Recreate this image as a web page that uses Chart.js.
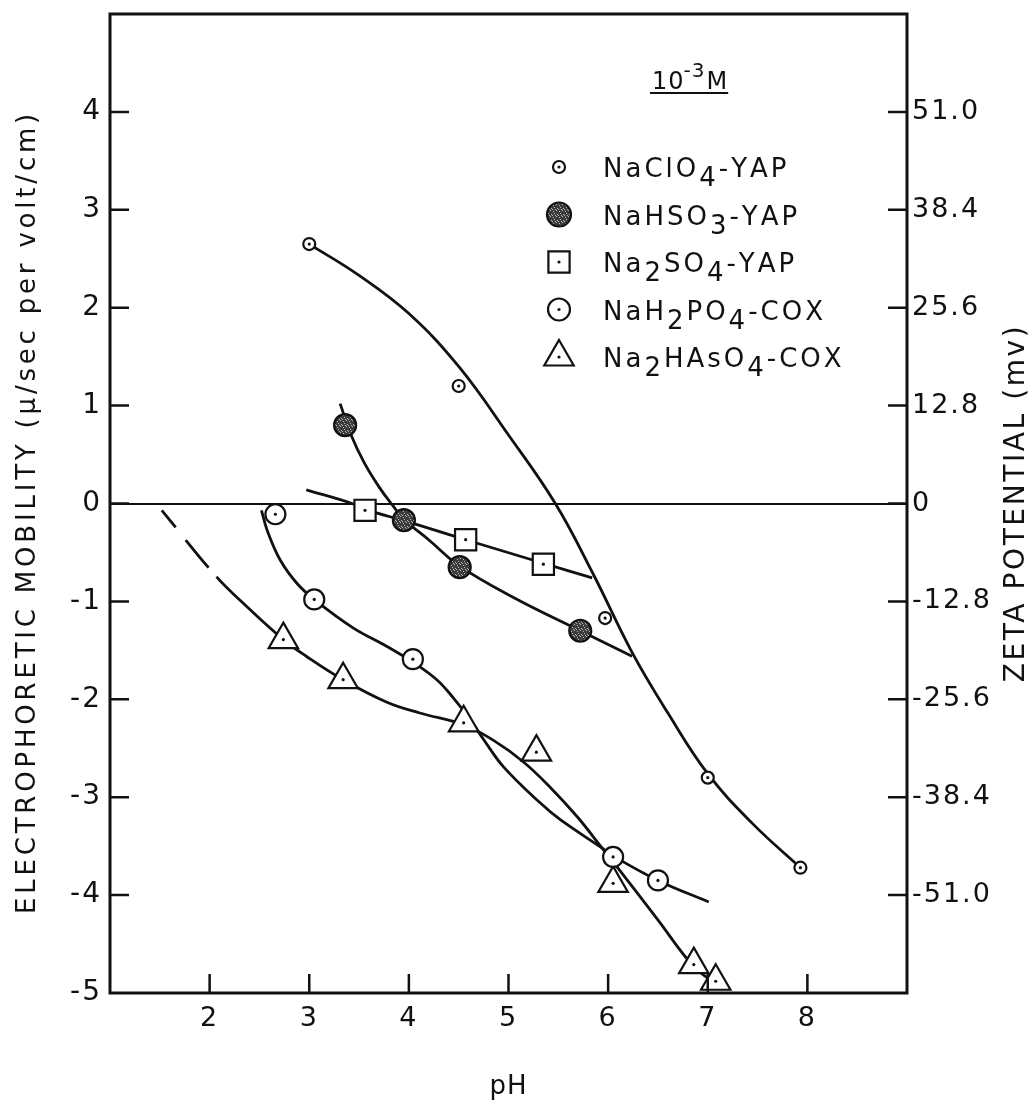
<!DOCTYPE html>
<html lang="en">
<head>
<meta charset="utf-8">
<title>Electrophoretic Mobility vs pH</title>
<script src="https://cdn.jsdelivr.net/npm/chart.js"></script>
<style>
  body { margin: 0; background: #fff; }
</style>
</head>
<body>
<canvas id="chart" width="1035" height="1105"></canvas>

<script>
// Axis ticks
const xTicks = [2, 3, 4, 5, 6, 7, 8];
const yTicks = [-5, -4, -3, -2, -1, 0, 1, 2, 3, 4];
const zetaTicks = [-51.2, -38.4, -25.6, -12.8, 0, 12.8, 25.6, 38.4, 51.2];
const zetaLabels = ['-51.0', '-38.4', '-25.6', '-12.8', '0', '12.8', '25.6', '38.4', '51.0'];

// NaClO4 - YAP
const perchloratePH  = [3.0, 4.5, 5.97, 7.0, 7.93];
const perchlorateMob = [2.65, 1.2, -1.17, -2.8, -3.72];
const perchlorateCurvePH  = [3.0, 3.5, 4.0, 4.5, 5.0, 5.47, 5.85, 6.24, 6.6, 7.0, 7.45, 7.93];
const perchlorateCurveMob = [2.65, 2.33, 1.94, 1.40, 0.70, 0.0, -0.72, -1.52, -2.14, -2.76, -3.27, -3.72];

// NaHSO3 - YAP
const bisulfitePH  = [3.36, 3.95, 4.51, 5.72];
const bisulfiteMob = [0.80, -0.17, -0.65, -1.30];
const bisulfiteCurvePH  = [3.31, 3.42, 3.55, 3.7, 3.83, 3.95, 4.21, 4.51, 5.05, 5.72, 6.24];
const bisulfiteCurveMob = [1.02, 0.7, 0.42, 0.17, -0.01, -0.16, -0.38, -0.64, -0.96, -1.30, -1.56];

// Na2SO4 - YAP
const sulfatePH  = [3.56, 4.57, 5.35];
const sulfateMob = [-0.07, -0.37, -0.62];
const sulfateCurvePH  = [2.97, 3.43, 3.56, 4.0, 4.57, 5.35, 5.84];
const sulfateCurveMob = [0.14, 0.0, -0.06, -0.19, -0.37, -0.61, -0.76];

// NaH2PO4 - COX
const phosphatePH  = [2.66, 3.05, 4.04, 6.05, 6.5];
const phosphateMob = [-0.11, -0.98, -1.59, -3.61, -3.85];
const phosphateCurvePH  = [2.52, 2.58, 2.71, 2.88, 3.05, 3.44, 3.78, 4.04, 4.28, 4.45, 4.61, 4.75, 4.95, 5.32, 5.52, 5.94, 6.05, 6.5, 7.01];
const phosphateCurveMob = [-0.07, -0.28, -0.58, -0.82, -0.98, -1.27, -1.46, -1.62, -1.8, -1.99, -2.2, -2.41, -2.69, -3.06, -3.23, -3.52, -3.6, -3.85, -4.07];

// Na2HAsO4 - COX (first segment is dashed)
const arsenatePH  = [2.74, 3.34, 4.55, 5.28, 6.05, 6.86, 7.08];
const arsenateMob = [-1.39, -1.80, -2.24, -2.54, -3.88, -4.71, -4.88];
const arsenateCurvePH  = [1.52, 2.07, 2.37, 2.74, 2.97, 3.34, 3.78, 4.11, 4.55, 4.85, 5.15, 5.42, 5.69, 5.94, 6.05, 6.49, 6.85, 7.07];
const arsenateCurveMob = [-0.07, -0.75, -1.05, -1.39, -1.56, -1.80, -2.03, -2.14, -2.26, -2.42, -2.64, -2.9, -3.2, -3.52, -3.66, -4.24, -4.72, -4.90];

const INK = '#111';
const FONT = "'DejaVu Sans', sans-serif";

const pts = (xs, ys) => xs.map((x, i) => ({ x: x, y: ys[i] }));

// speckled grey fill for the bisulfite markers
function speckle() {
  const c = document.createElement('canvas');
  c.width = 6; c.height = 6;
  const g = c.getContext('2d');
  g.fillStyle = '#3c3c3c';
  g.fillRect(0, 0, 6, 6);
  g.fillStyle = '#b8b8b8';
  [[1, 1], [4, 0], [2, 3], [5, 4], [0, 5], [3, 5]].forEach(p => g.fillRect(p[0], p[1], 1, 1));
  return document.getElementById('chart').getContext('2d').createPattern(c, 'repeat');
}

function curve(data, extra) {
  return Object.assign({
    data: data,
    showLine: true,
    borderColor: INK,
    borderWidth: 2.8,
    pointRadius: 0,
    tension: 0.4,
    order: 1
  }, extra || {});
}

function markers(label, data, style, radius, fill, dot) {
  return {
    label: label,
    data: data,
    showLine: false,
    pointStyle: style,
    pointRadius: radius,
    pointBackgroundColor: fill,
    pointBorderColor: INK,
    pointBorderWidth: 2.2,
    centerDot: dot,
    order: 0
  };
}

const shade = speckle();

const markerSets = [
  markers('NaClO₄-YAP', pts(perchloratePH, perchlorateMob), 'circle', 6, '#fff', true),
  markers('NaHSO₃-YAP', pts(bisulfitePH, bisulfiteMob), 'circle', 11, shade, false),
  markers('Na₂SO₄-YAP', pts(sulfatePH, sulfateMob), 'rect', 15, '#fff', true),
  markers('NaH₂PO₄-COX', pts(phosphatePH, phosphateMob), 'circle', 10, '#fff', true),
  markers('Na₂HAsO₄-COX', pts(arsenatePH, arsenateMob), 'triangle', 17, '#fff', true)
];

const curveSets = [
  curve(pts(perchlorateCurvePH, perchlorateCurveMob)),
  curve(pts(bisulfiteCurvePH, bisulfiteCurveMob)),
  curve(pts(sulfateCurvePH, sulfateCurveMob)),
  curve(pts(phosphateCurvePH, phosphateCurveMob)),
  curve(pts(arsenateCurvePH, arsenateCurveMob), {
    segment: { borderDash: c => c.p1DataIndex === 1 ? [22, 16, 36, 12] : undefined }
  })
];

// box around the plot plus tick marks pointing inwards
const frameTicks = {
  id: 'frameTicks',
  beforeDraw(chart) {
    chart.ctx.letterSpacing = '2px';
  },
  afterDraw(chart) {
    const ctx = chart.ctx;
    const { left, right, top, bottom } = chart.chartArea;
    const len = 19;
    ctx.save();
    ctx.strokeStyle = INK;
    ctx.lineWidth = 3;
    ctx.strokeRect(left, top, right - left, bottom - top);
    ctx.lineWidth = 2.5;
    ctx.beginPath();
    const inside = (s, v) => v > s.min && v < s.max;
    chart.scales.x.ticks.forEach(t => {
      if (!inside(chart.scales.x, t.value)) return;
      const px = chart.scales.x.getPixelForValue(t.value);
      ctx.moveTo(px, bottom);
      ctx.lineTo(px, bottom - len);
    });
    chart.scales.y.ticks.forEach(t => {
      if (!inside(chart.scales.y, t.value)) return;
      const py = chart.scales.y.getPixelForValue(t.value);
      ctx.moveTo(left, py);
      ctx.lineTo(left + len, py);
    });
    chart.scales.y2.ticks.forEach(t => {
      if (!inside(chart.scales.y2, t.value)) return;
      const py = chart.scales.y2.getPixelForValue(t.value);
      ctx.moveTo(right, py);
      ctx.lineTo(right - len, py);
    });
    ctx.stroke();
    ctx.restore();
  }
};

// small dot in the middle of the open markers
const centerDots = {
  id: 'centerDots',
  afterDatasetsDraw(chart) {
    const ctx = chart.ctx;
    ctx.save();
    ctx.fillStyle = INK;
    chart.data.datasets.forEach((ds, i) => {
      if (!ds.centerDot) return;
      chart.getDatasetMeta(i).data.forEach(el => {
        ctx.beginPath();
        ctx.arc(el.x, el.y, 1.6, 0, Math.PI * 2);
        ctx.fill();
      });
    });
    ctx.restore();
  }
};

// text with subscript digits lowered to full-size figures
function drawChem(ctx, text, x, y) {
  const subs = '₀₁₂₃₄₅₆₇₈₉';
  for (const ch of text) {
    const k = subs.indexOf(ch);
    if (k >= 0) {
      ctx.fillText(String(k), x, y + 9);
      x += ctx.measureText(String(k)).width;
    } else {
      ctx.fillText(ch, x, y);
      x += ctx.measureText(ch).width;
    }
  }
}

const keyBox = {
  id: 'keyBox',
  afterDraw(chart) {
    const ctx = chart.ctx;
    ctx.save();
    ctx.fillStyle = INK;
    ctx.strokeStyle = INK;
    ctx.textBaseline = 'alphabetic';
    ctx.textAlign = 'left';

    // concentration heading
    ctx.letterSpacing = '1px';
    let x = 652;
    ctx.font = '24px ' + FONT;
    ctx.fillText('10', x, 89);
    x += ctx.measureText('10').width - 1;
    ctx.font = '20px ' + FONT;
    ctx.fillText('-3', x, 77);
    x += ctx.measureText('-3').width + 1;
    ctx.font = '24px ' + FONT;
    ctx.fillText('M', x, 89);
    x += ctx.measureText('M').width;
    ctx.lineWidth = 1.8;
    ctx.beginPath();
    ctx.moveTo(650, 93);
    ctx.lineTo(x, 93);
    ctx.stroke();

    ctx.letterSpacing = '3px';
    ctx.font = '26px ' + FONT;
    markerSets.forEach((ds, row) => {
      const cy = 167 + row * 47.5;
      ctx.fillStyle = ds.pointBackgroundColor;
      ctx.lineWidth = 2.2;
      Chart.helpers.drawPoint(ctx, {
        pointStyle: ds.pointStyle,
        radius: ds.pointStyle === 'circle' && ds.pointRadius > 6 ? ds.pointRadius + 1 : ds.pointRadius,
        rotation: 0,
        borderWidth: 2.2
      }, 559, cy);
      if (ds.centerDot) {
        ctx.fillStyle = INK;
        ctx.beginPath();
        ctx.arc(559, cy, 1.6, 0, Math.PI * 2);
        ctx.fill();
      }
      ctx.fillStyle = INK;
      drawChem(ctx, ds.label, 603, cy + 10);
    });
    ctx.restore();
  }
};

const axisTitles = {
  id: 'axisTitles',
  afterDraw(chart) {
    const ctx = chart.ctx;
    const area = chart.chartArea;
    ctx.save();
    ctx.fillStyle = INK;
    ctx.textAlign = 'center';
    ctx.textBaseline = 'middle';

    ctx.font = '26px ' + FONT;
    ctx.letterSpacing = '3.8px';
    ctx.save();
    ctx.translate(28, 512);
    ctx.rotate(-Math.PI / 2);
    ctx.fillText('ELECTROPHORETIC MOBILITY (μ/sec per volt/cm)', 0, 0);
    ctx.restore();

    ctx.font = '28px ' + FONT;
    ctx.letterSpacing = '2.6px';
    ctx.save();
    ctx.translate(1017, 503);
    ctx.rotate(-Math.PI / 2);
    ctx.fillText('ZETA POTENTIAL (mv)', 0, 0);
    ctx.restore();

    ctx.font = '26px ' + FONT;
    ctx.letterSpacing = '1px';
    ctx.fillText('pH', (area.left + area.right) / 2, 1087);
    ctx.restore();
  }
};

new Chart(document.getElementById('chart'), {
  type: 'scatter',
  data: { datasets: markerSets.concat(curveSets) },
  options: {
    responsive: false,
    animation: false,
    layout: { autoPadding: false, padding: { top: 14 } },
    plugins: {
      legend: { display: false },
      tooltip: { enabled: false }
    },
    scales: {
      x: {
        type: 'linear',
        min: 1,
        max: 9,
        afterBuildTicks: s => { s.ticks = xTicks.map(v => ({ value: v })); },
        afterFit: s => { s.height = 112; s.paddingLeft = 0; s.paddingRight = 0; },
        grid: { display: false },
        border: { display: false },
        ticks: {
          autoSkip: false,
          maxRotation: 0,
          color: INK,
          padding: 2,
          font: { family: FONT, size: 27 }
        }
      },
      y: {
        type: 'linear',
        min: -5,
        max: 5,
        afterBuildTicks: s => { s.ticks = yTicks.map(v => ({ value: v })); },
        afterFit: s => { s.width = 110; s.paddingTop = 0; s.paddingBottom = 0; },
        grid: {
          drawTicks: false,
          lineWidth: 2,
          color: c => (c.tick && c.tick.value === 0 ? INK : 'rgba(0,0,0,0)')
        },
        border: { display: false },
        ticks: {
          autoSkip: false,
          color: INK,
          padding: 8,
          font: { family: FONT, size: 28 }
        }
      },
      y2: {
        type: 'linear',
        position: 'right',
        min: -64,
        max: 64,
        afterBuildTicks: s => { s.ticks = zetaTicks.map(v => ({ value: v })); },
        afterFit: s => { s.width = 128; s.paddingTop = 0; s.paddingBottom = 0; },
        grid: { display: false },
        border: { display: false },
        ticks: {
          autoSkip: false,
          color: INK,
          padding: -3,
          font: { family: FONT, size: 27 },
          callback: (v, i) => zetaLabels[i]
        }
      }
    }
  },
  plugins: [frameTicks, centerDots, keyBox, axisTitles]
});
</script>
</body>
</html>
